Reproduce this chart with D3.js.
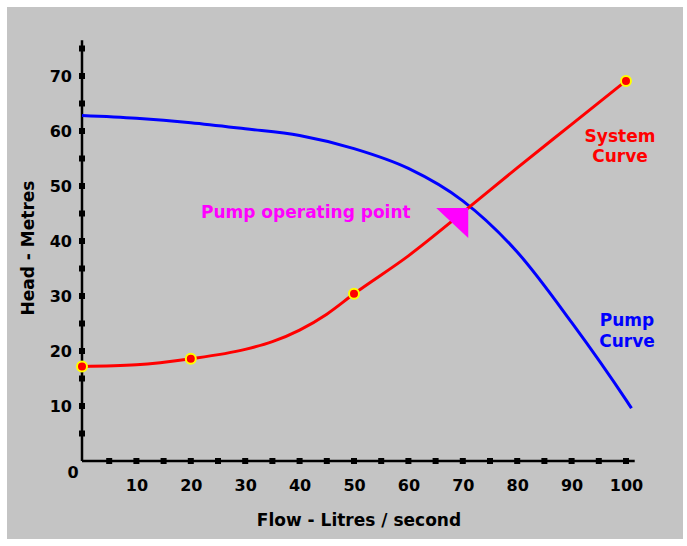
<!DOCTYPE html>
<html>
<head>
<meta charset="utf-8">
<script src="https://cdn.jsdelivr.net/npm/d3@7"></script>
<style>
  html, body { margin: 0; padding: 0; background: #fff; }
  text { font-family: 'DejaVu Sans', Verdana, sans-serif; font-weight: bold; }
</style>
</head>
<body>
<div id="chart"></div>
<script>
// values
const flowLabels = [10, 20, 30, 40, 50, 60, 70, 80, 90, 100];
const headLabels = [10, 20, 30, 40, 50, 60, 70];
const flowMinorTicks = d3.range(5, 101, 5);
const headMinorTicks = d3.range(5, 76, 5);

const pumpFlow = [0, 10, 20, 30, 40, 50, 60, 70, 80, 90, 100, 101];
const pumpHead = [62.8, 62.3, 61.5, 60.4, 59.2, 56.8, 53.2, 47.3, 38.0, 25.2, 11.1, 9.6];

const systemFlow = [0, 10, 20, 30, 35, 40, 45, 50, 60, 70, 80, 90, 100];
const systemHead = [17.2, 17.5, 18.6, 20.3, 21.7, 23.8, 26.7, 30.4, 37.3, 45.2, 53.3, 61.2, 69.1];

const measuredFlow = [0, 20, 50, 100];
const measuredHead = [17.2, 18.6, 30.4, 69.1];

const operatingPoint = { flow: 71, head: 46 };

const width = 687,
  height = 546;

const svg = d3
  .select('#chart')
  .append('svg')
  .attr('width', width)
  .attr('height', height);

svg
  .append('rect')
  .attr('x', 7)
  .attr('y', 7)
  .attr('width', 676)
  .attr('height', 532)
  .attr('fill', '#c4c4c4');

const x = d3.scaleLinear().domain([0, 100]).range([82, 626]);
const y = d3.scaleLinear().domain([0, 70]).range([461, 76]);

// axis lines
svg
  .append('line')
  .attr('x1', x(0))
  .attr('x2', x(101.6))
  .attr('y1', y(0))
  .attr('y2', y(0))
  .attr('stroke', '#000')
  .attr('stroke-width', 2.5);

svg
  .append('line')
  .attr('x1', x(0))
  .attr('x2', x(0))
  .attr('y1', y(0))
  .attr('y2', y(76.5))
  .attr('stroke', '#000')
  .attr('stroke-width', 2.5);

// square tick marks
svg
  .selectAll('.x-tick')
  .data(flowMinorTicks)
  .join('rect')
  .attr('class', 'x-tick')
  .attr('x', (d) => x(d) - 3)
  .attr('y', y(0) - 3)
  .attr('width', 6)
  .attr('height', 6)
  .attr('fill', '#000');

svg
  .selectAll('.y-tick')
  .data(headMinorTicks)
  .join('rect')
  .attr('class', 'y-tick')
  .attr('x', x(0) - 3)
  .attr('y', (d) => y(d) - 3)
  .attr('width', 6)
  .attr('height', 6)
  .attr('fill', '#000');

// tick labels
const xAxis = svg
  .append('g')
  .attr('transform', `translate(0, ${y(0)})`)
  .call(d3.axisBottom(x).tickValues(flowLabels).tickSize(0).tickPadding(19));

const yAxis = svg
  .append('g')
  .attr('transform', `translate(${x(0)}, 0)`)
  .call(d3.axisLeft(y).tickValues(headLabels).tickSize(0).tickPadding(10));

svg.selectAll('.domain').remove();
svg
  .selectAll('.tick text')
  .attr('fill', '#000')
  .style('font-size', '16px')
  .style('font-family', "'DejaVu Sans', Verdana, sans-serif")
  .style('font-weight', 'bold');

svg
  .append('text')
  .attr('x', x(0) - 9)
  .attr('y', y(0) + 17)
  .attr('text-anchor', 'middle')
  .style('font-size', '16px')
  .text('0');

// axis titles
svg
  .append('text')
  .attr('x', 359)
  .attr('y', 526)
  .attr('text-anchor', 'middle')
  .style('font-size', '17px')
  .text('Flow - Litres / second');

svg
  .append('text')
  .attr('transform', 'translate(34, 248) rotate(-90)')
  .attr('text-anchor', 'middle')
  .style('font-size', '17px')
  .text('Head - Metres');

// curves
const lineGenerator = d3
  .line()
  .x((d) => x(d[0]))
  .y((d) => y(d[1]))
  .curve(d3.curveMonotoneX);

svg
  .append('path')
  .attr('class', 'pump-line')
  .attr('fill', 'none')
  .attr('stroke', '#0000ff')
  .attr('stroke-width', 3)
  .attr('d', lineGenerator(d3.zip(pumpFlow, pumpHead)));

svg
  .append('path')
  .attr('class', 'system-line')
  .attr('fill', 'none')
  .attr('stroke', '#ff0000')
  .attr('stroke-width', 3)
  .attr('d', lineGenerator(d3.zip(systemFlow, systemHead)));

svg
  .selectAll('.measured')
  .data(d3.zip(measuredFlow, measuredHead))
  .join('circle')
  .attr('class', 'measured')
  .attr('cx', (d) => x(d[0]))
  .attr('cy', (d) => y(d[1]))
  .attr('r', 5)
  .attr('fill', '#ff0000')
  .attr('stroke', '#ffff00')
  .attr('stroke-width', 2);

// operating point marker
const ox = x(operatingPoint.flow),
  oy = y(operatingPoint.head);
svg
  .append('path')
  .attr('d', `M${ox - 32},${oy} L${ox},${oy} L${ox},${oy + 30} Z`)
  .attr('fill', '#ff00ff');

svg
  .append('text')
  .attr('x', 201)
  .attr('y', 218)
  .attr('fill', '#ff00ff')
  .style('font-size', '17px')
  .text('Pump operating point');

// curve labels
svg
  .selectAll('.system-label')
  .data(['System', 'Curve'])
  .join('text')
  .attr('class', 'system-label')
  .attr('x', 620)
  .attr('y', (d, i) => 142 + i * 20)
  .attr('text-anchor', 'middle')
  .attr('fill', '#ff0000')
  .style('font-size', '17px')
  .text((d) => d);

svg
  .selectAll('.pump-label')
  .data(['Pump', 'Curve'])
  .join('text')
  .attr('class', 'pump-label')
  .attr('x', 627)
  .attr('y', (d, i) => 326 + i * 21)
  .attr('text-anchor', 'middle')
  .attr('fill', '#0000ff')
  .style('font-size', '17px')
  .text((d) => d);
</script>
</body>
</html>
